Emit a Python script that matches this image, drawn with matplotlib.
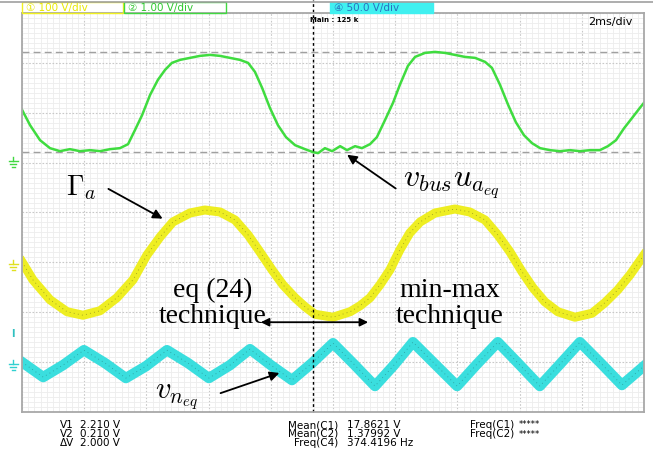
import matplotlib.pyplot as plt
import numpy as np
from matplotlib.patches import Rectangle
from matplotlib.lines import Line2D

plt.rcParams['mathtext.fontset'] = 'cm'

W, H = 653, 459

# time in ms (2 ms/div, 10 div), amplitude in screen divisions (0..8)
green_t = [0.00, 0.26, 0.58, 0.90, 1.22, 1.54, 1.86, 2.19, 2.51, 2.83, 3.15, 3.41, 3.63, 3.86,
           4.12, 4.37, 4.60, 4.82, 5.08, 5.40, 5.72, 6.05, 6.37, 6.69, 7.01, 7.27, 7.49, 7.72,
           7.97, 8.23, 8.49, 8.78, 9.10, 9.36, 9.52, 9.74, 9.97, 10.23, 10.45, 10.71, 10.93,
           11.19, 11.41, 11.67, 11.93, 12.15, 12.41, 12.64, 12.96, 13.28, 13.60, 13.92, 14.24,
           14.57, 14.89, 15.11, 15.37, 15.63, 15.88, 16.14, 16.40, 16.66, 16.98, 17.30, 17.62,
           17.94, 18.26, 18.58, 18.84, 19.10, 19.36, 19.61, 19.87, 20.00]
green_y = [6.06, 5.75, 5.45, 5.29, 5.23, 5.27, 5.23, 5.25, 5.23, 5.27, 5.29, 5.37, 5.65, 5.95,
           6.36, 6.66, 6.86, 7.00, 7.06, 7.10, 7.14, 7.16, 7.14, 7.10, 7.06, 7.00, 6.82, 6.50,
           6.10, 5.75, 5.51, 5.35, 5.27, 5.21, 5.19, 5.29, 5.23, 5.33, 5.25, 5.33, 5.29,
           5.37, 5.51, 5.85, 6.20, 6.56, 6.94, 7.12, 7.20, 7.22, 7.20, 7.16, 7.12,
           7.10, 7.02, 6.90, 6.56, 6.16, 5.81, 5.55, 5.39, 5.29, 5.25, 5.23, 5.25,
           5.23, 5.25, 5.25, 5.33, 5.45, 5.69, 5.89, 6.10, 6.20]

yellow_t = [0.00, 0.35, 0.90, 1.45, 1.96, 2.51, 3.05, 3.57, 4.02, 4.44, 4.85, 5.40, 5.88, 6.37,
            6.85, 7.27, 7.65, 8.04, 8.39, 8.78, 9.10, 9.42, 10.00, 10.55, 10.87, 11.19, 11.51,
            11.83, 12.15, 12.47, 12.80, 13.28, 13.92, 14.40, 14.89, 15.30, 15.69, 16.08, 16.43,
            16.81, 17.23, 17.78, 18.33, 18.74, 19.16, 19.55, 20.00]
yellow_y = [3.01, 2.65, 2.25, 2.01, 1.94, 2.03, 2.29, 2.65, 3.15, 3.51, 3.81, 3.99, 4.05, 4.01,
            3.85, 3.55, 3.21, 2.85, 2.55, 2.29, 2.11, 1.96, 1.90, 2.01, 2.13, 2.29, 2.55,
            2.85, 3.25, 3.59, 3.81, 3.99, 4.07, 4.01, 3.85, 3.55, 3.21, 2.81, 2.49,
            2.21, 2.01, 1.90, 1.98, 2.19, 2.45, 2.75, 3.15]

cyan_t = [0.00, 0.68, 1.32, 1.99, 2.67, 3.34, 3.99, 4.66, 5.34, 6.01, 6.69, 7.33, 8.00, 8.68,
          9.36, 10.00, 10.67, 11.35, 11.96, 12.57, 13.28, 13.99, 14.63, 15.30, 15.98, 16.65,
          17.30, 17.94, 18.61, 19.29, 20.00]
cyan_y = [1.00, 0.70, 0.94, 1.24, 0.98, 0.68, 0.92, 1.24, 0.98, 0.68, 0.94, 1.26, 0.94, 0.64,
          1.00, 1.38, 0.96, 0.52, 0.94, 1.40, 0.96, 0.52, 0.96, 1.40, 0.96, 0.52,
          0.96, 1.40, 0.98, 0.54, 0.92]

cursor_v = [2.21, 0.21]      # V on channel 2 (1 V/div)
ch2_offset = 5.0             # divisions
trigger_t = 9.36

fig = plt.figure(figsize=(W / 100, H / 100), dpi=100)
ax = fig.add_axes([22 / W, (H - 412) / H, 622 / W, 399 / H])
ax.set_xlim(0, 20)
ax.set_ylim(0, 8)

ax.set_xticks(np.arange(0, 20.1, 2))
ax.set_yticks(np.arange(0, 8.1, 1))
ax.set_xticks(np.arange(0, 20.01, 0.2), minor=True)
ax.set_yticks(np.arange(0, 8.01, 0.1), minor=True)
ax.grid(which='minor', color='#ededed', lw=0.6)
ax.grid(which='major', color='#c8c8c8', lw=0.8, ls=(0, (1.5, 1.5)))
ax.tick_params(which='both', length=0, labelbottom=False, labelleft=False)
for s in ax.spines.values():
    s.set_color('#a8a8a8')
    s.set_linewidth(1.3)

for v in cursor_v:
    ax.axhline(ch2_offset + v, color='#a0a0a0', lw=1.0, ls=(0, (5, 3)))

ax.plot(green_t, green_y, color='#3fdc3f', lw=1.8, solid_joinstyle='round')
ax.plot(yellow_t, yellow_y, color='#eeee22', lw=6.5, solid_joinstyle='round')
ax.plot(yellow_t, yellow_y, color='#6a6a20', lw=0.6, ls=(0, (1, 4)), alpha=0.7)
ax.plot(cyan_t, cyan_y, color='#3adede', lw=7.5, solid_joinstyle='round')
ax.plot(cyan_t, cyan_y, color='#206a6a', lw=0.6, ls=(0, (1, 4)), alpha=0.6)

ax.plot([trigger_t, trigger_t], [0, 8.27], color='black', lw=1.0, ls=(0, (2, 2)), clip_on=False)

# annotations
arr = dict(arrowstyle='-|>', color='black', lw=1.3, mutation_scale=14)
ax.text(1.40, 4.5, r'$\Gamma_a$', fontsize=20, va='center', ha='left')
ax.annotate('', xy=(4.60, 3.85), xytext=(2.70, 4.50), arrowprops=arr)
ax.text(12.25, 4.55, r'$v_{bus}u_{a_{eq}}$', fontsize=23, va='center', ha='left')
ax.annotate('', xy=(10.38, 5.19), xytext=(12.09, 4.45), arrowprops=arr)
ax.text(6.14, 2.17, 'eq (24)\ntechnique', fontsize=20, family='Liberation Serif',
        ha='center', va='center', linespacing=1.05)
ax.text(13.76, 2.17, 'min-max\ntechnique', fontsize=20, family='Liberation Serif',
        ha='center', va='center', linespacing=1.05)
ax.annotate('', xy=(7.59, 1.80), xytext=(11.22, 1.80),
            arrowprops=dict(arrowstyle='<|-|>', color='black', lw=1.3, mutation_scale=12))
ax.text(4.28, 0.30, r'$v_{n_{eq}}$', fontsize=22, va='center', ha='left')
ax.annotate('', xy=(8.36, 0.80), xytext=(6.30, 0.36), arrowprops=arr)

# header
def fx(px):
    return px / W

def fy(py):
    return 1 - py / H

fig.add_artist(Line2D([0, 1], [fy(2), fy(2)], color='#a0a0a0', lw=1.2, transform=fig.transFigure))
boxes = [(22, 123, '#f0f020', 'none', '#e8e800', '\u2460 100 V/div'),
         (124, 226, '#40d840', 'none', '#30c830', '\u2461 1.00 V/div'),
         (330, 433, '#40f0f0', '#40f0f0', '#2a70c0', '\u2463 50.0 V/div')]
for x0, x1, ec, fc, tc, label in boxes:
    fig.add_artist(Rectangle((fx(x0), fy(13)), (x1 - x0) / W, 11 / H, transform=fig.transFigure,
                             ec=ec, fc=fc, lw=1))
    fig.text(fx(x0 + 4), fy(7.5), label, color=tc, fontsize=7.5, va='center', ha='left')
fig.text(fx(310), fy(20), 'Main : 125 k', fontsize=5, weight='bold', va='center')
fig.text(fx(588), fy(22), '2ms/div', fontsize=8, va='center')

# ground markers
def ground(px, py, c):
    for dy, w in [(0, 9), (3, 6), (6, 3)]:
        fig.add_artist(Line2D([fx(px - w / 2), fx(px + w / 2)], [fy(py + dy), fy(py + dy)],
                              color=c, lw=1, transform=fig.transFigure))
    fig.add_artist(Line2D([fx(px), fx(px)], [fy(py - 4), fy(py)], color=c, lw=1,
                          transform=fig.transFigure))

ground(13, 161, '#40d840')
ground(13, 264, '#e0e020')
ground(13, 364, '#30d0d0')
fig.text(fx(13), fy(334), 'I', color='#30c0c0', fontsize=7, weight='bold', ha='center', va='center')

# measurement readout
fam = ['Liberation Sans Narrow', 'DejaVu Sans']
rows = [425, 434, 443]
left_labels = ['V1', 'V2', '\u0394V']
left_vals = ['2.210 V', '0.210 V', '2.000 V']
mid_labels = ['Mean(C1)', 'Mean(C2)', 'Freq(C4)']
mid_vals = ['17.8621 V', '1.37992 V', '374.4196 Hz']
right_labels = ['Freq(C1)', 'Freq(C2)']
right_vals = ['*****', '*****']
for i, r in enumerate(rows):
    fig.text(fx(60), fy(r), left_labels[i], fontsize=7.5, family=fam, va='center')
    fig.text(fx(80), fy(r), left_vals[i], fontsize=7.5, family=fam, va='center')
    fig.text(fx(338), fy(r), mid_labels[i], fontsize=7.5, family=fam, va='center', ha='right')
    fig.text(fx(347), fy(r), mid_vals[i], fontsize=7.5, family=fam, va='center')
for i in range(2):
    fig.text(fx(470), fy(rows[i]), right_labels[i], fontsize=7.5, family=fam, va='center')
    fig.text(fx(519), fy(rows[i]), right_vals[i], fontsize=6, family=fam, va='center')

fig.savefig('out.png', dpi=100)
